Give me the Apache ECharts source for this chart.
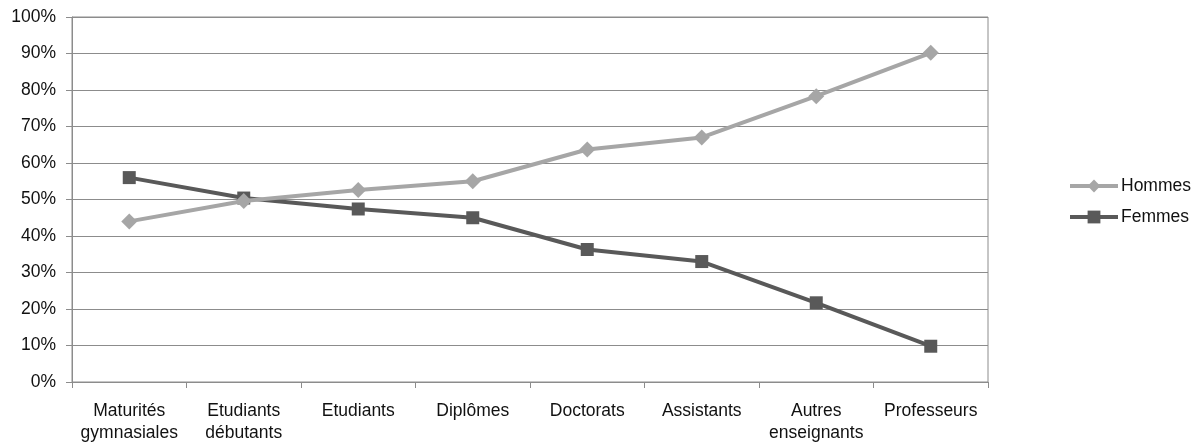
<!DOCTYPE html>
<html>
<head>
<meta charset="utf-8">
<script src="https://cdn.jsdelivr.net/npm/echarts@6/dist/echarts.min.js"></script>
<style>html,body{margin:0;padding:0;background:#fff}#c{width:1197px;height:446px}</style>
</head>
<body>
<div id="c"></div>
<script>
const categories = ["Maturités\ngymnasiales", "Etudiants\ndébutants", "Etudiants", "Diplômes", "Doctorats", "Assistants", "Autres\nenseignants", "Professeurs"];
const hommes = [44.0, 49.6, 52.6, 55.0, 63.7, 67.0, 78.3, 90.2];
const femmes = [56.0, 50.4, 47.4, 45.0, 36.3, 33.0, 21.7, 9.8];
const seriesNames = ["Hommes", "Femmes"];

const font = "'Liberation Sans', Arial, Helvetica, sans-serif";
const chart = echarts.init(document.getElementById('c'), null, {renderer: 'canvas'});
chart.setOption({
  animation: false,
  backgroundColor: '#fff',
  textStyle: {fontFamily: font},
  grid: {left: 72, right: 209, top: 17, bottom: 64, containLabel: false, show: true, borderColor: '#8c8c8c', borderWidth: 1},
  legend: {
    orient: 'vertical', left: 1063, top: 172,
    itemWidth: 48, itemHeight: 16, itemGap: 13,
    textStyle: {fontSize: 17.5, color: '#111', fontFamily: font, padding: [0,0,0,-2]},
    lineStyle: {width: 4},
    data: seriesNames
  },
  xAxis: {
    type: 'category', data: categories, boundaryGap: true,
    axisLine: {lineStyle: {color: '#8c8c8c', width: 1}},
    axisTick: {show: true, length: 6, interval: 0, lineStyle: {color: '#8c8c8c'}},
    axisLabel: {interval: 0, fontSize: 17.5, lineHeight: 22, color: '#111', margin: 18, fontFamily: font},
    splitLine: {show: false}
  },
  yAxis: {
    type: 'value', min: 0, max: 100, interval: 10,
    axisLine: {show: true, lineStyle: {color: '#8c8c8c', width: 1}},
    axisTick: {show: true, length: 6, lineStyle: {color: '#8c8c8c'}},
    axisLabel: {formatter: '{value}%', fontSize: 17.5, color: '#111', margin: 16, fontFamily: font},
    splitLine: {show: true, lineStyle: {color: '#8c8c8c', width: 1}}
  },
  series: [
    {name: seriesNames[0], type: 'line', data: hommes, symbol: 'diamond', symbolSize: 16,
     lineStyle: {color: '#a6a6a6', width: 4}, itemStyle: {color: '#a6a6a6'}, z: 3},
    {name: seriesNames[1], type: 'line', data: femmes, symbol: 'rect', symbolSize: 13,
     lineStyle: {color: '#595959', width: 4}, itemStyle: {color: '#595959'}, z: 2}
  ]
});
</script>
</body>
</html>
